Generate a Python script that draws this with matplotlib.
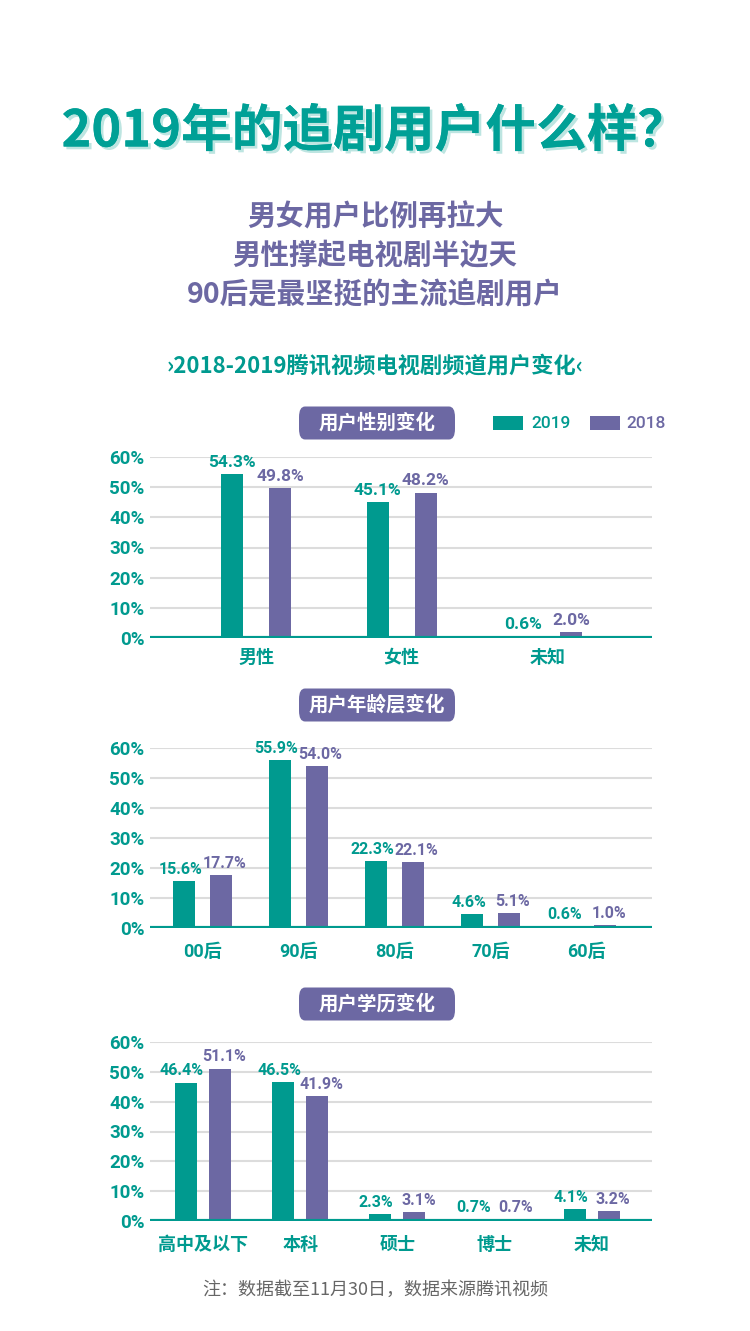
import matplotlib
matplotlib.use("Agg")
import matplotlib.pyplot as plt
from matplotlib.patches import FancyBboxPatch, Rectangle
import matplotlib.patheffects as pe
import numpy as np

plt.rcParams['font.family'] = ['Roboto', 'Noto Sans CJK SC', 'DejaVu Sans']

TEAL = '#009A8F'
PURPLE = '#6C68A3'
GRID = '#DCDCDC'

title = "2019年的追剧用户什么样？"
subtitle_lines = ["男女用户比例再拉大", "男性撑起电视剧半边天", "90后是最坚挺的主流追剧用户"]
section_title = "›2018-2019腾讯视频电视剧频道用户变化‹"
footnote = "注：数据截至11月30日，数据来源腾讯视频"
series_names = ["2019", "2018"]

gender_title = "用户性别变化"
gender_cats = ["男性", "女性", "未知"]
gender_2019 = [54.3, 45.1, 0.6]
gender_2018 = [49.8, 48.2, 2.0]

age_title = "用户年龄层变化"
age_cats = ["00后", "90后", "80后", "70后", "60后"]
age_2019 = [15.6, 55.9, 22.3, 4.6, 0.6]
age_2018 = [17.7, 54.0, 22.1, 5.1, 1.0]

edu_title = "用户学历变化"
edu_cats = ["高中及以下", "本科", "硕士", "博士", "未知"]
edu_2019 = [46.4, 46.5, 2.3, 0.7, 4.1]
edu_2018 = [51.1, 41.9, 3.1, 0.7, 3.2]

yticks = [0, 10, 20, 30, 40, 50, 60]

W, H = 750, 1331
fig = plt.figure(figsize=(W / 100, H / 100), dpi=100)
fig.patch.set_facecolor('white')

CJK = ['Noto Sans CJK SC', 'DejaVu Sans']


def fx(x):
    return x / W


def fy(y):
    return 1 - y / H


# Title
fig.text(0.5, fy(132), title, ha='center', va='center', color='#00A096',
         fontsize=36.5, fontweight='bold', family=CJK,
         path_effects=[pe.withSimplePatchShadow(offset=(2, -2), shadow_rgbFace='#BDE5E1', alpha=1.0),
                       pe.Normal()])

# Subtitle
for i, line in enumerate(subtitle_lines):
    fig.text(0.5, fy(217 + i * 39), line, ha='center', va='center', color=PURPLE,
             fontsize=20.5, fontweight='bold', family=CJK)

# Section title
fig.text(0.5, fy(366), section_title, ha='center', va='center', color=TEAL,
         fontsize=16, fontweight='bold', family=CJK)


def header_box(yc, text):
    x0, x1 = 299, 455
    h = 33
    box = FancyBboxPatch((fx(x0), fy(yc + h / 2)), fx(x1) - fx(x0), h / H,
                         boxstyle="round,pad=0,rounding_size=0.008",
                         transform=fig.transFigure, facecolor=PURPLE, edgecolor='none')
    fig.patches.append(box)
    fig.text(fx((x0 + x1) / 2), fy(yc), text, ha='center', va='center', color='white',
             fontsize=14, fontweight='bold', family=CJK)


def make_chart(top, bottom, cats, v19, v18, xlim, width, offset, label_pad, vsize, nudge):
    ax = fig.add_axes([fx(150), fy(bottom), fx(652) - fx(150), (bottom - top) / H])
    x = np.arange(len(cats))
    ax.bar(x - offset, v19, width=width, color=TEAL, zorder=3)
    ax.bar(x + offset, v18, width=width, color=PURPLE, zorder=3)
    ax.set_xlim(*xlim)
    ax.set_ylim(0, 60)
    ax.set_yticks(yticks)
    ax.set_yticklabels([f"{t}%" for t in yticks])
    ax.set_xticks(x)
    ax.set_xticklabels(cats)
    for s in ax.spines.values():
        s.set_visible(False)
    ax.tick_params(axis='y', length=0, pad=4, labelsize=13.5, labelcolor=TEAL)
    ax.tick_params(axis='x', length=0, pad=label_pad, labelsize=13, labelcolor=TEAL)
    for lab in ax.get_yticklabels() + ax.get_xticklabels():
        lab.set_fontweight('bold')
    ax.grid(axis='y', color=GRID, lw=1.5, zorder=0)
    ax.axhline(0, color=TEAL, lw=3, zorder=4)
    ax.set_facecolor('none')
    for xi, v in zip(x - offset, v19):
        ax.annotate(f"{v}%", (xi, v), xytext=(-nudge, 3), textcoords='offset points',
                    ha='center', va='bottom', color=TEAL, fontsize=vsize, fontweight='bold',
                    annotation_clip=False)
    for xi, v in zip(x + offset, v18):
        ax.annotate(f"{v}%", (xi, v), xytext=(nudge, 3), textcoords='offset points',
                    ha='center', va='bottom', color=PURPLE, fontsize=vsize, fontweight='bold',
                    annotation_clip=False)
    return ax


# Chart 1: gender
header_box(423, gender_title)
make_chart(457, 638, gender_cats, gender_2019, gender_2018,
           xlim=(-0.73, 2.72), width=0.15, offset=0.164, label_pad=8, vsize=12.5, nudge=0)

# Legend
for xr, name, col, xt in [(493, series_names[0], TEAL, 531), (590, series_names[1], PURPLE, 626)]:
    fig.patches.append(Rectangle((fx(xr), fy(430)), fx(30), 14 / H, transform=fig.transFigure,
                                 facecolor=col, edgecolor='none'))
    fig.text(fx(xt), fy(423), name, ha='left', va='center', color=col, fontsize=12.5,
             fontweight='medium')

# Chart 2: age
header_box(705, age_title)
make_chart(748, 928, age_cats, age_2019, age_2018,
           xlim=(-0.547, 4.68), width=0.23, offset=0.193, label_pad=11, vsize=11.5, nudge=2.5)

# Chart 3: education
header_box(1004, edu_title)
make_chart(1042, 1221, edu_cats, edu_2019, edu_2018,
           xlim=(-0.546, 4.62), width=0.227, offset=0.175, label_pad=11, vsize=11.5, nudge=3)

# Footnote
fig.text(0.5, fy(1290), footnote, ha='center', va='center', color='#666666',
         fontsize=13, family=CJK)

fig.savefig("out.png", dpi=100, facecolor='white')
